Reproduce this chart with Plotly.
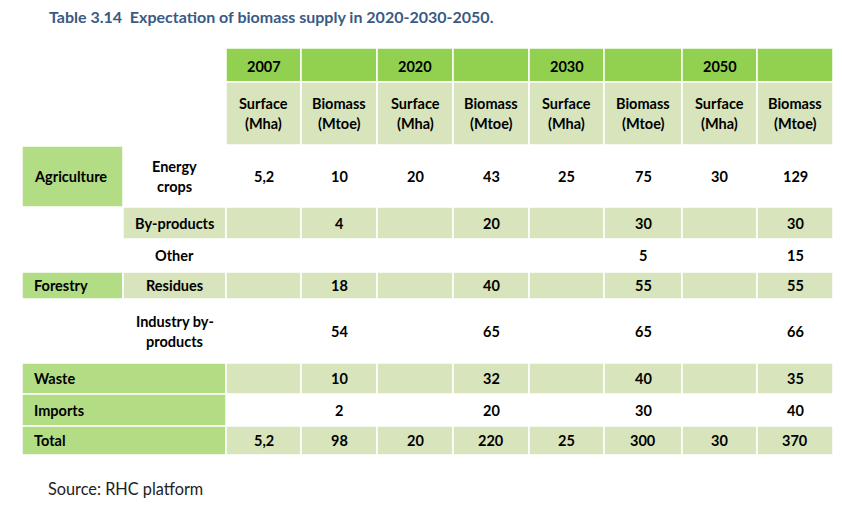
import plotly.graph_objects as go

# ---------------- data ----------------
title = "Table 3.14  Expectation of biomass supply in 2020-2030-2050."
source = "Source: RHC platform"
years = ["2007", "2020", "2030", "2050"]
sub_headers = [["Surface", "(Mha)"], ["Biomass", "(Mtoe)"]]

groups = ["Agriculture", "", "", "Forestry", "", "Waste", "Imports", "Total"]
categories = [["Energy", "crops"], ["By-products"], ["Other"], ["Residues"],
              ["Industry by-", "products"], [], [], []]

surface_energy = [5.2, 20, 25, 30]
biomass_energy = [10, 43, 75, 129]
biomass_byproducts = [4, 20, 30, 30]
biomass_other = [None, None, 5, 15]
biomass_residues = [18, 40, 55, 55]
biomass_industry = [54, 65, 65, 66]
biomass_waste = [10, 32, 40, 35]
biomass_imports = [2, 20, 30, 40]
surface_total = [5.2, 20, 25, 30]
biomass_total = [98, 220, 300, 370]

surface_rows = [surface_energy, None, None, None, None, None, None, surface_total]
biomass_rows = [biomass_energy, biomass_byproducts, biomass_other, biomass_residues,
                biomass_industry, biomass_waste, biomass_imports, biomass_total]

# ---------------- layout / style ----------------
W, H = 842, 506
PAGE_MARGIN = 8  # default body margin of the html page
col_edges = [22, 123, 226, 301, 377, 453, 529, 604, 682, 757, 833]
row_edges = [48, 82, 145, 207, 239, 272, 299, 363, 394, 426, 455]
row_tops = [48, 82, 146, 207, 239, 272, 299, 363, 394, 426]

BRIGHT = "#92D050"
MEDIUM = "#B2DD84"
LIGHT = "#D7E4BC"
TEXT = "#000000"
FONT = "Lato"
CELL_SIZE = 14.5

# fills for body rows: (group fill, category fill, data fill, group spans 2 cols)
body_style = [
    (MEDIUM, None, None, False),
    (None, LIGHT, LIGHT, False),
    (None, None, None, False),
    (MEDIUM, LIGHT, LIGHT, False),
    (None, None, None, False),
    (MEDIUM, None, LIGHT, True),
    (MEDIUM, None, None, True),
    (MEDIUM, None, LIGHT, True),
]


def fmt(v):
    if v is None:
        return ""
    if float(v).is_integer():
        return str(int(v))
    return str(v).replace(".", ",")


fig = go.Figure()
shapes = []
ann = []


def rect(x0, x1, y0, y1, color):
    if color is None:
        return
    shapes.append(dict(type="rect", xref="x", yref="y", x0=x0, x1=x1, y0=y0, y1=y1,
                       fillcolor=color, line=dict(color="white", width=1.5), layer="below"))


def text(x, y, s, bold=True, size=CELL_SIZE, anchor="center", color=TEXT):
    ann.append(dict(x=x, y=y, xref="x", yref="y", text=("<b>%s</b>" % s) if bold else s,
                    showarrow=False, xanchor=anchor, yanchor="middle",
                    font=dict(family=FONT, size=size, color=color)))


def lines(x, y0, y1, parts, anchor="center"):
    yc = (y0 + y1) / 2
    n = len(parts)
    for i, p in enumerate(parts):
        yy = yc + (i - (n - 1) / 2) * 20
        text(x, yy, p, anchor=anchor)


data_cols = list(range(2, 10))

# header row 1: years
y0, y1 = row_tops[0], row_edges[1]
for j in data_cols:
    rect(col_edges[j], col_edges[j + 1], y0, y1, BRIGHT)
for k, yr in enumerate(years):
    j = 2 + 2 * k
    text((col_edges[j] + col_edges[j + 1]) / 2, (y0 + y1) / 2 + 1, yr)

# header row 2: sub headers
y0, y1 = row_tops[1], row_edges[2]
for j in data_cols:
    rect(col_edges[j], col_edges[j + 1], y0, y1, LIGHT)
    sh = sub_headers[(j - 2) % 2]
    lines((col_edges[j] + col_edges[j + 1]) / 2, y0, y1, sh)

# body rows
for i in range(8):
    y0, y1 = row_tops[i + 2], row_edges[i + 3]
    gfill, cfill, dfill, span = body_style[i]
    if span:
        rect(col_edges[0], col_edges[2], y0, y1, gfill)
    else:
        rect(col_edges[0], col_edges[1], y0, y1, gfill)
        rect(col_edges[1], col_edges[2], y0, y1, cfill)
    for j in data_cols:
        rect(col_edges[j], col_edges[j + 1], y0, y1, dfill)
    if groups[i]:
        text(col_edges[0] + 10, (y0 + y1) / 2, groups[i], anchor="left")
    if categories[i]:
        lines((col_edges[1] + col_edges[2]) / 2, y0, y1, categories[i])
    for k in range(4):
        srow = surface_rows[i]
        if srow is not None:
            j = 2 + 2 * k
            text((col_edges[j] + col_edges[j + 1]) / 2, (y0 + y1) / 2, fmt(srow[k]))
        j = 3 + 2 * k
        text((col_edges[j] + col_edges[j + 1]) / 2, (y0 + y1) / 2, fmt(biomass_rows[i][k]))

# title and source
text(47, 16, title, bold=True, size=16, anchor="left", color="#3A5A85")
text(46, 488, source, bold=False, size=16.3, anchor="left", color="#222222")

fig.update_layout(
    width=W - PAGE_MARGIN, height=H - PAGE_MARGIN, margin=dict(l=0, r=0, t=0, b=0),
    paper_bgcolor="white", plot_bgcolor="white",
    shapes=shapes, annotations=ann, showlegend=False,
    xaxis=dict(range=[PAGE_MARGIN, W], visible=False, fixedrange=True),
    yaxis=dict(range=[H, PAGE_MARGIN], visible=False, fixedrange=True),
)
fig.write_html("out.html")
